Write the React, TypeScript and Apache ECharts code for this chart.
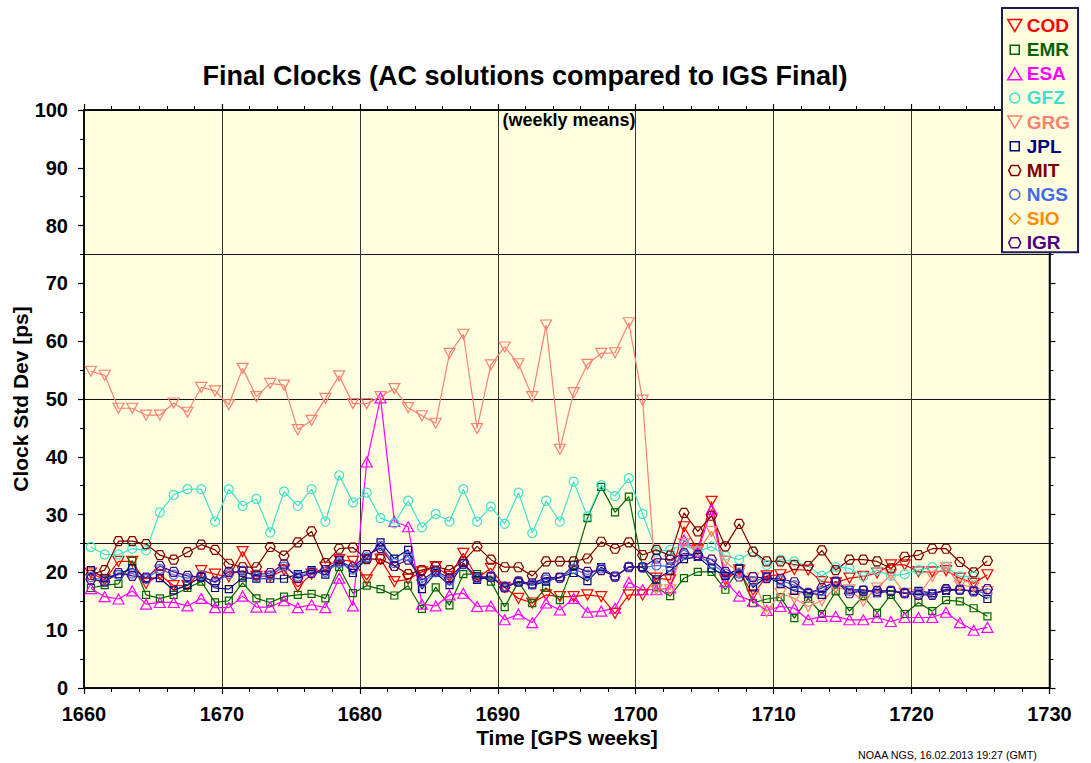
import { useEffect, useRef } from "react";
import * as echarts from "echarts";

// GPS weeks (plotted at mid-week)
const weeks = [
  1660, 1661, 1662, 1663, 1664, 1665, 1666, 1667, 1668, 1669,
  1670, 1671, 1672, 1673, 1674, 1675, 1676, 1677, 1678, 1679,
  1680, 1681, 1682, 1683, 1684, 1685, 1686, 1687, 1688, 1689,
  1690, 1691, 1692, 1693, 1694, 1695, 1696, 1697, 1698, 1699,
  1700, 1701, 1702, 1703, 1704, 1705, 1706, 1707, 1708, 1709,
  1710, 1711, 1712, 1713, 1714, 1715, 1716, 1717, 1718, 1719,
  1720, 1721, 1722, 1723, 1724, 1725,
];

const COD = [
  19.9, 18.7, 21.9, 21.9, 18.1, 19.6, 17.7, 17.7, 20.3, 19.7,
  19.2, 23.6, 19.3, 19.3, 20.4, 17.5, 19.7, 20.9, 22.2, 21.9,
  18.7, 22.3, 18.4, 18.8, 20.1, 21.0, 19.3, 23.3, 19.0, 20.7,
  17.4, 15.5, 14.7, 16.1, 15.8, 15.8, 16.1, 15.8, 12.9, 16.1,
  16.1, 19.0, 18.7, 27.9, 23.9, 32.3, 18.7, 20.4, 16.1, 19.4,
  19.6, 20.5, 20.4, 18.4, 18.2, 19.0, 19.3, 19.9, 21.3, 21.3,
  20.1, 20.1, 20.3, 19.0, 18.1, 19.6,
];
const EMR = [
  17.3, 17.8, 18.0, 22.0, 16.1, 15.5, 16.1, 17.3, 18.4, 14.8,
  15.1, 18.2, 15.5, 14.8, 15.8, 16.1, 16.3, 15.5, 20.9, 16.4,
  17.7, 17.1, 16.0, 17.7, 13.7, 17.4, 14.3, 19.7, 19.7, 18.4,
  14.0, 18.4, 14.7, 17.3, 15.2, 21.3, 29.4, 34.8, 30.4, 33.1,
  20.9, 17.4, 15.9, 19.0, 20.1, 20.1, 17.0, 20.7, 14.7, 15.4,
  15.7, 12.1, 15.5, 12.8, 16.7, 13.3, 15.9, 13.0, 16.1, 12.8,
  14.8, 13.3, 15.2, 15.0, 13.8, 12.4,
];
const ESA = [
  17.2, 15.8, 15.4, 16.8, 14.5, 14.8, 14.8, 14.2, 15.5, 13.9,
  13.9, 15.9, 14.0, 14.0, 15.1, 13.9, 14.4, 13.9, 19.0, 14.2,
  39.1, 50.2, 28.8, 27.9, 14.5, 14.2, 16.1, 16.4, 14.1, 14.2,
  11.8, 12.8, 11.3, 14.7, 13.5, 15.5, 13.1, 13.3, 13.8, 18.3,
  17.0, 17.0, 17.3, 25.6, 23.6, 30.9, 18.4, 15.9, 15.0, 13.4,
  14.1, 13.8, 11.8, 12.4, 12.4, 11.8, 11.8, 12.2, 11.5, 12.2,
  12.2, 12.2, 13.1, 11.3, 10.0, 10.5,
];
const GFZ = [
  24.4, 23.1, 23.1, 24.1, 23.8, 30.4, 33.4, 34.4, 34.4, 28.8,
  34.4, 31.5, 32.7, 26.9, 34.0, 31.5, 34.4, 28.8, 36.8, 32.1,
  33.8, 29.4, 28.5, 32.4, 27.8, 30.1, 28.8, 34.4, 28.8, 31.4,
  28.4, 33.8, 26.8, 32.4, 28.8, 35.7, 29.7, 35.1, 33.2, 36.3,
  30.1, 23.6, 23.9, 24.8, 23.6, 24.5, 22.9, 22.2, 23.6, 21.3,
  22.2, 21.9, 21.1, 19.4, 20.9, 20.7, 19.3, 20.4, 19.4, 19.7,
  20.4, 20.9, 20.9, 19.3, 19.3, null,
];
const GRG = [
  54.8, 54.1, 48.4, 48.4, 47.2, 47.2, 49.3, 47.7, 52.0, 51.4,
  49.0, 55.3, 50.4, 52.7, 52.4, 44.7, 46.3, 50.1, 54.0, 49.2,
  49.2, 50.4, 51.8, 48.5, 47.1, 45.8, 57.9, 61.2, 44.9, 55.9,
  59.0, 56.1, 50.4, 62.8, 41.3, 51.1, 56.0, 57.9, 58.0, 63.2,
  49.8, 17.0, 17.0, 25.0, 23.6, 27.1, 21.9, 19.9, 19.0, 13.2,
  16.4, 15.5, 14.1, 15.1, 17.3, 17.0, 15.0, 17.3, 19.6, 16.4,
  16.1, 19.3, 20.9, 17.8, 17.5, 16.7,
];
const JPL = [
  20.4, 19.0, 19.7, 20.7, 19.0, 19.0, 16.9, 17.8, 19.2, 17.3,
  17.1, 19.1, 18.9, 18.9, 18.9, 19.7, 20.4, 19.6, 22.2, 19.9,
  22.4, 25.2, 22.4, 23.9, 17.1, 19.9, 17.8, 21.6, 18.7, 19.3,
  17.4, 18.3, 17.8, 18.4, 19.2, 19.9, 18.5, 20.9, 19.3, 21.0,
  20.9, 18.8, 20.3, 22.3, 22.7, 20.7, 19.4, 20.7, 17.4, 19.3,
  18.0, 16.8, 16.4, 16.1, 18.4, 17.0, 17.0, 16.4, 16.8, 16.4,
  16.8, 16.4, 16.8, 17.0, 16.8, 15.4,
];
const MIT = [
  19.6, 20.4, 25.4, 25.4, 24.9, 23.0, 22.2, 23.5, 24.8, 23.9,
  21.5, 20.9, 20.9, 24.4, 22.9, 25.2, 27.1, 21.6, 24.1, 24.3,
  22.3, 22.3, 21.1, 19.7, 20.4, 21.0, 20.4, 21.9, 24.5, 22.2,
  20.9, 20.9, 19.4, 21.9, 21.9, 21.9, 22.4, 25.3, 24.1, 25.2,
  23.0, 23.9, 22.9, 30.3, 27.1, 29.8, 24.5, 28.4, 23.6, 21.9,
  21.9, 21.3, 21.1, 23.8, 20.4, 22.2, 22.2, 21.9, 20.7, 22.7,
  23.0, 24.1, 24.1, 21.8, 20.0, 22.0,
];
const NGS = [
  19.2, 18.6, 19.6, 19.8, 18.9, 20.6, 19.6, 19.0, 19.5, 18.2,
  19.7, 20.3, 19.2, 19.5, 21.0, 19.3, 20.1, 20.1, 21.6, 20.5,
  22.6, 24.6, 21.6, 22.8, 18.2, 20.0, 18.6, 21.4, 19.0, 19.4,
  17.6, 18.5, 17.9, 18.8, 19.0, 20.6, 19.6, 20.7, 19.2, 21.0,
  20.8, 21.2, 21.0, 23.0, 22.9, 21.5, 19.8, 19.8, 18.5, 19.1,
  18.6, 17.8, 16.5, 16.8, 18.3, 16.8, 16.9, 16.6, 16.8, 16.5,
  16.4, 16.3, 17.0, 17.0, 16.8, 16.4,
];
const SIO: (number | null)[] = [];
const IGR = [
  18.8, 18.4, 19.9, 19.4, 19.1, 21.1, 20.1, 19.4, 19.2, 18.4,
  20.1, 20.1, 19.6, 19.9, 21.4, 19.0, 19.9, 20.4, 21.9, 20.9,
  23.0, 24.2, 21.1, 22.2, 18.7, 20.3, 19.0, 21.5, 19.2, 19.2,
  17.4, 18.4, 18.1, 19.1, 19.1, 21.1, 20.1, 20.4, 19.3, 20.9,
  20.9, 22.4, 22.2, 23.3, 23.0, 22.2, 20.1, 19.3, 19.2, 19.0,
  18.9, 18.3, 16.4, 17.3, 18.4, 16.4, 16.8, 16.8, 16.8, 16.4,
  16.1, 16.1, 17.1, 17.0, 16.7, 17.1,
];

const FONT = '"Liberation Sans", Arial, Helvetica, sans-serif';
const INV_TRI = "path://M0,0L10,0L5,9Z";
const HEX = "path://M2.5,0L7.5,0L10,4.33L7.5,8.66L2.5,8.66L0,4.33Z";
const LEG_RECT = "path://M0,0M14,13M2.5,2L11.5,2L11.5,11L2.5,11Z";
const LEG_INV = "path://M0,0L14,0L7,12Z";
const LEG_HEX = "path://M0,0M14,13M3.5,1.5L10.5,1.5L13,6.5L10.5,11.5L3.5,11.5L1,6.5Z";
const LEG_TRI = "path://M7,0L14,12L0,12Z";
const LEG_DIA = "path://M0,0M14,13M7,1L12.5,6.5L7,12L1.5,6.5Z";
const LEG_CIRC = "path://M0,0M14,13M12,6.5A5,5,0,1,1,2,6.5A5,5,0,1,1,12,6.5Z";

const seriesDefs = [
  { name: "COD", color: "#FF0000", symbol: INV_TRI, size: [11, 10], legendIcon: LEG_INV, data: COD },
  { name: "EMR", color: "#006400", symbol: "rect", size: 7, legendIcon: LEG_RECT, data: EMR },
  { name: "ESA", color: "#FF00FF", symbol: "triangle", size: [11, 10], legendIcon: LEG_TRI, data: ESA },
  { name: "GFZ", color: "#40E0D0", symbol: "circle", size: 9, legendIcon: LEG_CIRC, data: GFZ },
  { name: "GRG", color: "#FA8072", symbol: INV_TRI, size: [11, 10], legendIcon: LEG_INV, data: GRG },
  { name: "JPL", color: "#000080", symbol: "rect", size: 7, legendIcon: LEG_RECT, data: JPL },
  { name: "MIT", color: "#800000", symbol: HEX, size: [10, 9], legendIcon: LEG_HEX, data: MIT },
  { name: "NGS", color: "#4169E1", symbol: "circle", size: 9, legendIcon: LEG_CIRC, data: NGS },
  { name: "SIO", color: "#FF8C00", symbol: "diamond", size: 10, legendIcon: LEG_DIA, data: SIO },
  { name: "IGR", color: "#4B0082", symbol: HEX, size: [10, 9], legendIcon: LEG_HEX, data: IGR },
];

export default function App() {
  const ref = useRef<HTMLDivElement>(null);
  useEffect(() => {
    const chart = echarts.init(ref.current!, null, { renderer: "svg" });
    const tickLabel = {
      color: "#000",
      fontFamily: FONT,
      fontWeight: "bold",
      fontSize: 20,
      formatter: (v: number) => String(v),
    };
    const option: any = {
      animation: false,
      backgroundColor: "#ffffff",
      grid: {
        left: 84,
        right: 41.5,
        top: 110,
        bottom: 75,
        show: true,
        backgroundColor: "#FFFFE0",
        borderColor: "#000",
        borderWidth: 1.5,
      },
      legend: {
        orient: "vertical",
        left: 1002,
        top: 8,
        padding: [8, 8, 0, 5],
        itemWidth: 14,
        itemHeight: 13,
        itemGap: 5.15,
        backgroundColor: "#FFFFE0",
        borderColor: "#1c1c5c",
        borderWidth: 2,
        selectedMode: false,
        textStyle: { fontFamily: FONT, fontWeight: "bold", fontSize: 19 },
        data: seriesDefs.map((s) => ({
          name: s.name,
          icon: s.legendIcon,
          itemStyle: { color: "rgba(0,0,0,0)", borderColor: s.color, borderWidth: 1.5 },
          textStyle: { color: s.color, fontFamily: FONT, fontWeight: "bold", fontSize: 19 },
        })),
      },
      xAxis: [
        {
          type: "value",
          position: "bottom",
          min: 1660,
          max: 1730,
          interval: 10,
          axisLine: { show: true, onZero: false, lineStyle: { color: "#000", width: 1.5 } },
          axisTick: { show: true, length: 6, lineStyle: { color: "#000", width: 1.2 } },
          minorTick: { show: true, splitNumber: 5, length: 4, lineStyle: { color: "#000", width: 1 } },
          axisLabel: { ...tickLabel, margin: 16 },
          splitLine: { show: true, lineStyle: { color: "#333", width: 1 } },
        },
        {
          type: "value",
          position: "top",
          min: 1660,
          max: 1730,
          interval: 10,
          axisLine: { show: true, onZero: false, lineStyle: { color: "#000", width: 1.5 } },
          axisTick: { show: true, length: 6, lineStyle: { color: "#000", width: 1.2 } },
          minorTick: { show: true, splitNumber: 5, length: 4, lineStyle: { color: "#000", width: 1 } },
          axisLabel: { show: false },
          splitLine: { show: false },
        },
      ],
      yAxis: [
        {
          type: "value",
          position: "left",
          min: 0,
          max: 100,
          interval: 10,
          axisLine: { show: true, onZero: false, lineStyle: { color: "#000", width: 1.5 } },
          axisTick: { show: true, length: 6, lineStyle: { color: "#000", width: 1.2 } },
          minorTick: { show: true, splitNumber: 2, length: 4, lineStyle: { color: "#000", width: 1 } },
          axisLabel: { ...tickLabel, margin: 16 },
          splitLine: { show: false },
        },
        {
          type: "value",
          position: "right",
          min: 0,
          max: 100,
          interval: 10,
          axisLine: { show: true, onZero: false, lineStyle: { color: "#000", width: 1.5 } },
          axisTick: { show: true, length: 6, lineStyle: { color: "#000", width: 1.2 } },
          minorTick: { show: true, splitNumber: 2, length: 4, lineStyle: { color: "#000", width: 1 } },
          axisLabel: { show: false },
          splitLine: { show: false },
        },
        {
          type: "value",
          position: "right",
          min: 0,
          max: 100,
          interval: 25,
          axisLine: { show: false },
          axisTick: { show: false },
          axisLabel: { show: false },
          splitLine: { show: true, lineStyle: { color: "#111", width: 1.2 } },
        },
      ],
      graphic: [
        {
          type: "text",
          x: 525,
          y: 76,
          style: {
            text: "Final Clocks (AC solutions compared to IGS Final)",
            font: `bold 27px ${FONT}`,
            fill: "#000",
            textAlign: "center",
            textVerticalAlign: "middle",
          },
        },
        {
          type: "text",
          x: 569,
          y: 120,
          z: 100,
          style: {
            text: "(weekly means)",
            font: `bold 18px ${FONT}`,
            fill: "#000",
            textAlign: "center",
            textVerticalAlign: "middle",
          },
        },
        {
          type: "text",
          x: 567,
          y: 737,
          style: {
            text: "Time [GPS weeks]",
            font: `bold 21px ${FONT}`,
            fill: "#000",
            textAlign: "center",
            textVerticalAlign: "middle",
          },
        },
        {
          type: "text",
          x: 20,
          y: 399,
          rotation: Math.PI / 2,
          style: {
            text: "Clock Std Dev [ps]",
            font: `bold 21px ${FONT}`,
            fill: "#000",
            textAlign: "center",
            textVerticalAlign: "middle",
          },
        },
        {
          type: "text",
          x: 858,
          y: 755,
          style: {
            text: "NOAA NGS, 16.02.2013 19:27 (GMT)",
            font: `10.7px ${FONT}`,
            fill: "#000",
            textAlign: "left",
            textVerticalAlign: "middle",
          },
        },
      ],
      series: seriesDefs.map((s) => ({
        type: "line",
        name: s.name,
        xAxisIndex: 0,
        yAxisIndex: 0,
        symbol: s.symbol,
        symbolSize: s.size,
        showAllSymbol: true,
        connectNulls: false,
        lineStyle: { color: s.color, width: 1.2 },
        itemStyle: { color: "rgba(0,0,0,0)", borderColor: s.color, borderWidth: 1.2 },
        emphasis: { disabled: true },
        data: s.data
          .map((v, i) => (v == null ? null : [weeks[i] + 0.5, v]))
          .filter((p) => p !== null),
      })),
    };
    chart.setOption(option);
    return () => chart.dispose();
  }, []);
  return (
    <div
      ref={ref}
      style={{ position: "fixed", left: 0, top: 0, width: 1091, height: 763, background: "#fff" }}
    />
  );
}
